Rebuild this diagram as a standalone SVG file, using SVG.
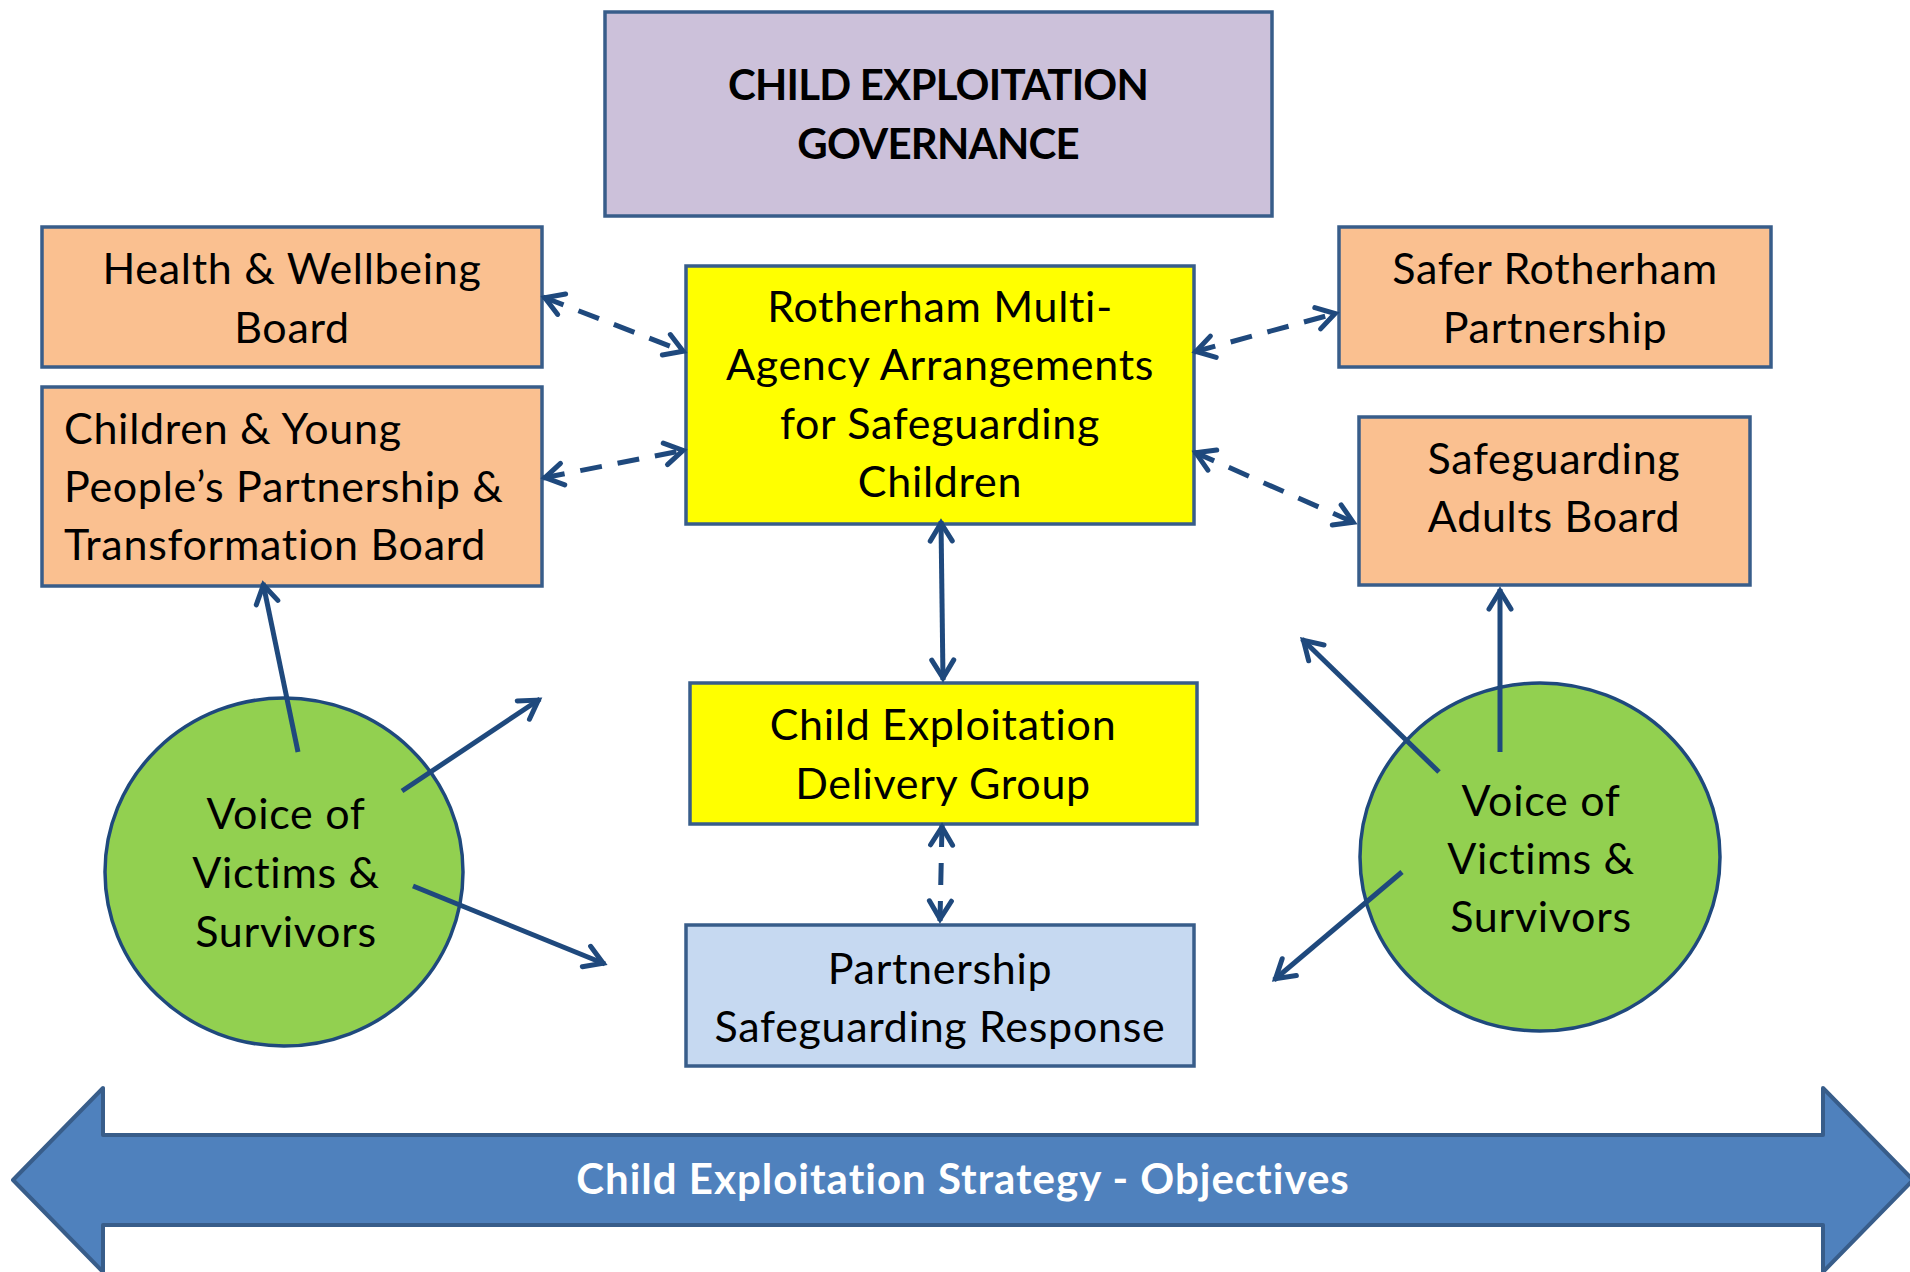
<svg xmlns="http://www.w3.org/2000/svg" width="1910" height="1272" viewBox="0 0 1910 1272">
  <style>
    .lbl { font-family: Lato, "Open Sans", "Liberation Sans", sans-serif; font-size: 43px; letter-spacing: 0.7px; fill: #000; font-variant-ligatures: none; font-feature-settings: "liga" 0; }
    .mid { text-anchor: middle; }
    .caps { font-weight: bold; font-size: 42px; letter-spacing: -0.8px; }
    .banner { font-weight: bold; font-size: 42px; letter-spacing: 1px; fill: #FFFFFF; }
    .box { stroke: #385D8A; stroke-width: 3.5; }
    .peach { fill: #FAC090; }
    .yellow { fill: #FFFF00; }
    .lilac { fill: #CCC1DA; }
    .pale { fill: #C6D9F1; }
    .green { fill: #92D050; stroke: #1F497D; stroke-width: 3.5; }
    .link { fill: none; stroke: #1F497D; stroke-width: 5; }
    .dash { stroke-dasharray: 22 16; }
    .head { fill: none; stroke: #1F497D; stroke-width: 5; stroke-linecap: round; stroke-linejoin: miter; stroke-dasharray: none; }
  </style>
  <defs>
    <marker id="vee" markerUnits="userSpaceOnUse" orient="auto-start-reverse" refX="2" refY="0" markerWidth="40" markerHeight="40" overflow="visible">
      <path class="head" d="M-18,-11 L0,0 L-18,11"/>
    </marker>
  </defs>

  <rect width="1910" height="1272" fill="#FFFFFF"/>

  <!-- strategy banner -->
  <g id="strategy">
    <polygon points="13,1180 103,1088 103,1135 1823,1135 1823,1088 1913,1180 1823,1272 1823,1225 103,1225 103,1272" fill="#4F81BD" stroke="#385D8A" stroke-width="4" stroke-linejoin="round"/>
    <text class="lbl mid banner" x="963" y="1194">Child Exploitation Strategy - Objectives</text>
  </g>

  <g id="governance">
    <rect class="box lilac" x="605" y="12" width="667" height="204"/>
    <text class="lbl mid caps" x="938" y="100">CHILD EXPLOITATION</text>
    <text class="lbl mid caps" x="938" y="159">GOVERNANCE</text>
  </g>

  <g id="health-wellbeing">
    <rect class="box peach" x="42" y="227" width="500" height="140"/>
    <text class="lbl mid" x="292" y="284">Health &amp; Wellbeing</text>
    <text class="lbl mid" x="292" y="343">Board</text>
  </g>

  <g id="children-young-people">
    <rect class="box peach" x="42" y="387" width="500" height="199"/>
    <text class="lbl" x="64" y="444">Children &amp; Young</text>
    <text class="lbl" x="64" y="502">People’s Partnership &amp;</text>
    <text class="lbl" x="64" y="560">Transformation Board</text>
  </g>

  <g id="rmaasc">
    <rect class="box yellow" x="686" y="266" width="508" height="258"/>
    <text class="lbl mid" x="940" y="322">Rotherham Multi-</text>
    <text class="lbl mid" x="940" y="380">Agency Arrangements</text>
    <text class="lbl mid" x="940" y="439">for Safeguarding</text>
    <text class="lbl mid" x="940" y="497">Children</text>
  </g>

  <g id="safer-rotherham">
    <rect class="box peach" x="1339" y="227" width="432" height="140"/>
    <text class="lbl mid" x="1555" y="284">Safer Rotherham</text>
    <text class="lbl mid" x="1555" y="343">Partnership</text>
  </g>

  <g id="safeguarding-adults">
    <rect class="box peach" x="1359" y="417" width="391" height="168"/>
    <text class="lbl mid" x="1554" y="474">Safeguarding</text>
    <text class="lbl mid" x="1554" y="532">Adults Board</text>
  </g>

  <g id="delivery-group">
    <rect class="box yellow" x="690" y="683" width="507" height="141"/>
    <text class="lbl mid" x="943" y="740">Child Exploitation</text>
    <text class="lbl mid" x="943" y="799">Delivery Group</text>
  </g>

  <g id="safeguarding-response">
    <rect class="box pale" x="686" y="925" width="508" height="141"/>
    <text class="lbl mid" x="940" y="984">Partnership</text>
    <text class="lbl mid" x="940" y="1042">Safeguarding Response</text>
  </g>

  <g id="voice-left">
    <ellipse class="green" cx="284" cy="872" rx="179" ry="174"/>
    <text class="lbl mid" x="286" y="829">Voice of</text>
    <text class="lbl mid" x="286" y="888">Victims &amp;</text>
    <text class="lbl mid" x="286" y="947">Survivors</text>
  </g>

  <g id="voice-right">
    <ellipse class="green" cx="1540" cy="857" rx="180" ry="174"/>
    <text class="lbl mid" x="1541" y="816">Voice of</text>
    <text class="lbl mid" x="1541" y="874">Victims &amp;</text>
    <text class="lbl mid" x="1541" y="932">Survivors</text>
  </g>

  <g id="connectors">
    <!-- two-way dashed links around the safeguarding arrangements -->
    <path class="link dash" d="M543,297 L685,352" marker-start="url(#vee)" marker-end="url(#vee)"/>
    <path class="link dash" d="M543,478 L685,450" marker-start="url(#vee)" marker-end="url(#vee)"/>
    <path class="link dash" d="M1194,352 L1337,313" marker-start="url(#vee)" marker-end="url(#vee)"/>
    <path class="link dash" d="M1194,452 L1355,523" marker-start="url(#vee)" marker-end="url(#vee)"/>
    <path class="link" d="M941,521 L943,680" marker-start="url(#vee)" marker-end="url(#vee)"/>
    <path class="link dash" d="M942,825 L940,921" marker-start="url(#vee)" marker-end="url(#vee)"/>
    <!-- voice of victims, left -->
    <path class="link" d="M298,752 L263,583" marker-end="url(#vee)"/>
    <path class="link" d="M402,791 L540,699" marker-end="url(#vee)"/>
    <path class="link" d="M413,886 L605,964" marker-end="url(#vee)"/>
    <!-- voice of victims, right -->
    <path class="link" d="M1500,752 L1500,589" marker-end="url(#vee)"/>
    <path class="link" d="M1439,772 L1302,639" marker-end="url(#vee)"/>
    <path class="link" d="M1402,872 L1274,980" marker-end="url(#vee)"/>
  </g>
</svg>
